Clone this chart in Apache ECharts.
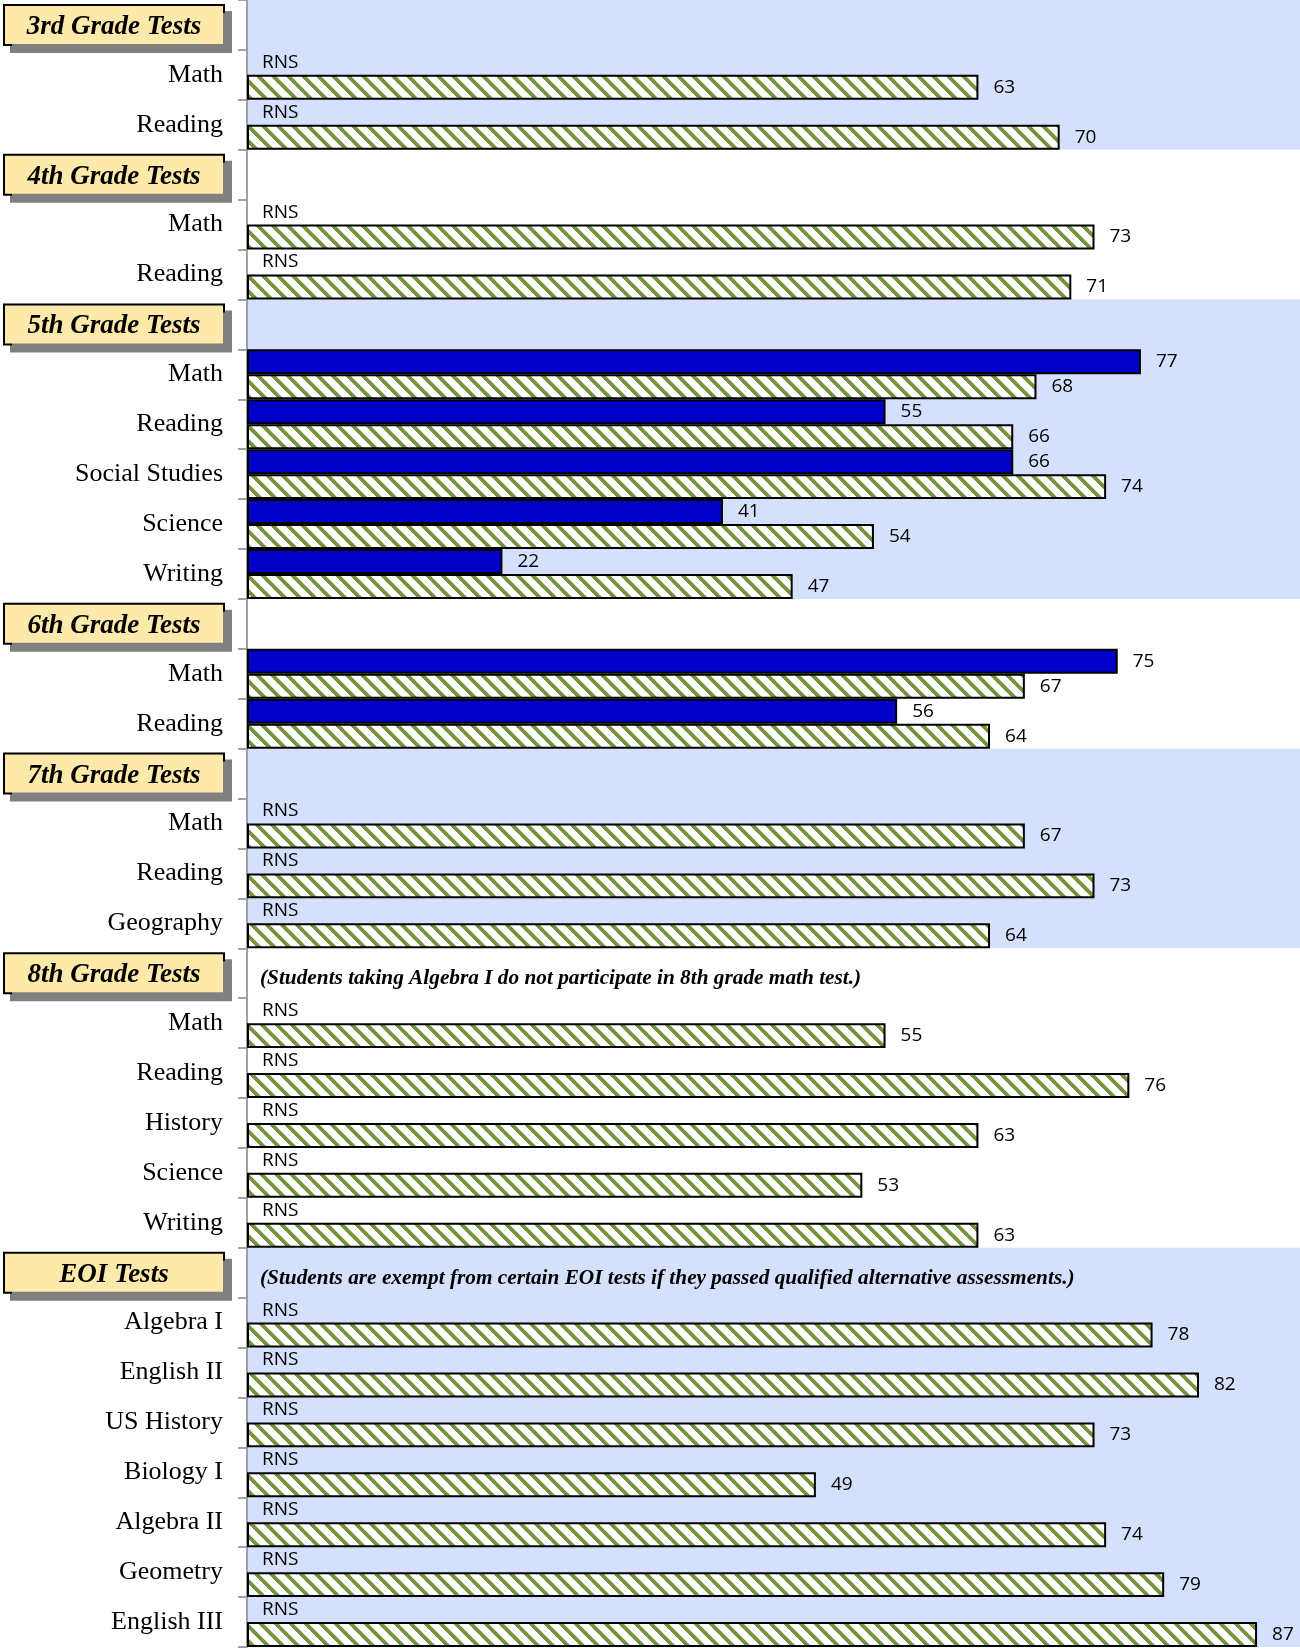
<!DOCTYPE html>
<html><head><meta charset="utf-8">
<script src="https://cdn.jsdelivr.net/npm/echarts@6/dist/echarts.min.js"></script>
<style>html,body{margin:0;padding:0;background:#fff}#c{width:1300px;height:1649px}</style>
</head><body><div id="c"></div>
<script>
// ---- data ----
const groupTitles = ['3rd Grade Tests','4th Grade Tests','5th Grade Tests','6th Grade Tests','7th Grade Tests','8th Grade Tests','EOI Tests'];
const groupSubjects = [
  ['Math','Reading'],
  ['Math','Reading'],
  ['Math','Reading','Social Studies','Science','Writing'],
  ['Math','Reading'],
  ['Math','Reading','Geography'],
  ['Math','Reading','History','Science','Writing'],
  ['Algebra I','English II','US History','Biology I','Algebra II','Geometry','English III']
];
const blueValues = [
  [null,null],
  [null,null],
  [77,55,66,41,22],
  [75,56],
  [null,null,null],
  [null,null,null,null,null],
  [null,null,null,null,null,null,null]
];
const greenValues = [
  [63,70],
  [73,71],
  [68,66,74,54,47],
  [67,64],
  [67,73,64],
  [55,76,63,53,63],
  [78,82,73,49,74,79,87]
];
const groupNotes = [null,null,null,null,null,
  '(Students taking Algebra I do not participate in 8th grade math test.)',
  '(Students are exempt from certain EOI tests if they passed qualified alternative assessments.)'];
const missingLabel = 'RNS';

// ---- styles ----
const BAND = '#d4e0fc';
const BLUE = '#0000c8';
const GREEN = [119,147,60];

function makeHatch(){
  const P = 15, W = 5;
  const c = document.createElement('canvas');
  c.width = P; c.height = P;
  const ctx = c.getContext('2d');
  const img = ctx.createImageData(P, P);
  for (let y = 0; y < P; y++) {
    for (let x = 0; x < P; x++) {
      const d = (((x - y) % P) + P) % P;
      let t = 0;
      if (d < W) t = 1;
      else if (d < W + 1) t = 0.4;
      else if (d > P - 1) t = 0.4;
      const i = (y * P + x) * 4;
      img.data[i]   = Math.round(255 + (GREEN[0] - 255) * t);
      img.data[i+1] = Math.round(255 + (GREEN[1] - 255) * t);
      img.data[i+2] = Math.round(255 + (GREEN[2] - 255) * t);
      img.data[i+3] = 255;
    }
  }
  ctx.putImageData(img, 0, 0);
  return c;
}

const noteLabel = {
  show: true, position: 'right', distance: 13, offset: [0, 18],
  fontFamily: 'Liberation Serif', fontStyle: 'italic', fontWeight: 'bold', fontSize: 21.3, color: '#000'
};

const categories = [], headerFlags = [], bandColors = [], blueData = [], greenData = [];
groupTitles.forEach((t, g) => {
  const band = g % 2 === 0 ? BAND : '#ffffff';
  categories.push(t); headerFlags.push(true); bandColors.push(band);
  if (groupNotes[g]) {
    blueData.push({ value: 0, itemStyle: { borderWidth: 0 }, label: Object.assign({ formatter: groupNotes[g] }, noteLabel) });
  } else {
    blueData.push('-');
  }
  greenData.push('-');
  groupSubjects[g].forEach((s, i) => {
    categories.push(s); headerFlags.push(false); bandColors.push(band);
    const b = blueValues[g][i];
    blueData.push(b == null ? { value: 0, itemStyle: { borderWidth: 0 }, label: { formatter: missingLabel } } : b);
    greenData.push(greenValues[g][i]);
  });
});

const valueLabel = { show: true, position: 'right', distance: 15, fontFamily: 'Open Sans', fontSize: 19, color: '#000' };

const chart = echarts.init(document.getElementById('c'), null, { renderer: 'canvas' });
chart.setOption({
  animation: false,
  grid: { left: 247, right: 0, top: -3, bottom: 2, containLabel: false },
  xAxis: { type: 'value', min: 0, max: 90.7, show: false },
  yAxis: {
    type: 'category', inverse: true, data: categories,
    axisLine: { show: true, lineStyle: { color: '#a0a0a0', width: 2 } },
    axisTick: { show: true, length: 9, lineStyle: { color: '#a0a0a0', width: 2 } },
    splitLine: { show: false },
    splitArea: { show: true, interval: 0, areaStyle: { color: bandColors } },
    axisLabel: {
      interval: 0, margin: 24,
      formatter: (v, idx) => headerFlags[idx] ? '{h|' + v + '}' : '{c|' + v + '}',
      rich: {
        h: {
          fontFamily: 'Liberation Serif', fontStyle: 'italic', fontWeight: 'bold', fontSize: 27, color: '#000',
          backgroundColor: '#fde9a9', borderColor: '#000', borderWidth: 2,
          shadowColor: '#808080', shadowOffsetX: 7, shadowOffsetY: 7, shadowBlur: 0,
          width: 210, height: 32, align: 'center', padding: [5, 4, 1, 4]
        },
        c: { fontFamily: 'Liberation Serif', fontSize: 26, color: '#000' }
      }
    }
  },
  series: [
    {
      type: 'bar', name: 'School', data: blueData, barGap: '0%', barCategoryGap: '0%',
      itemStyle: { color: BLUE, borderColor: '#000', borderWidth: 2 },
      label: valueLabel
    },
    {
      type: 'bar', name: 'State', data: greenData, barGap: '0%', barCategoryGap: '0%',
      itemStyle: { color: { image: makeHatch(), repeat: 'repeat' }, borderColor: '#000', borderWidth: 2 },
      label: valueLabel
    }
  ]
});
</script>
</body></html>
